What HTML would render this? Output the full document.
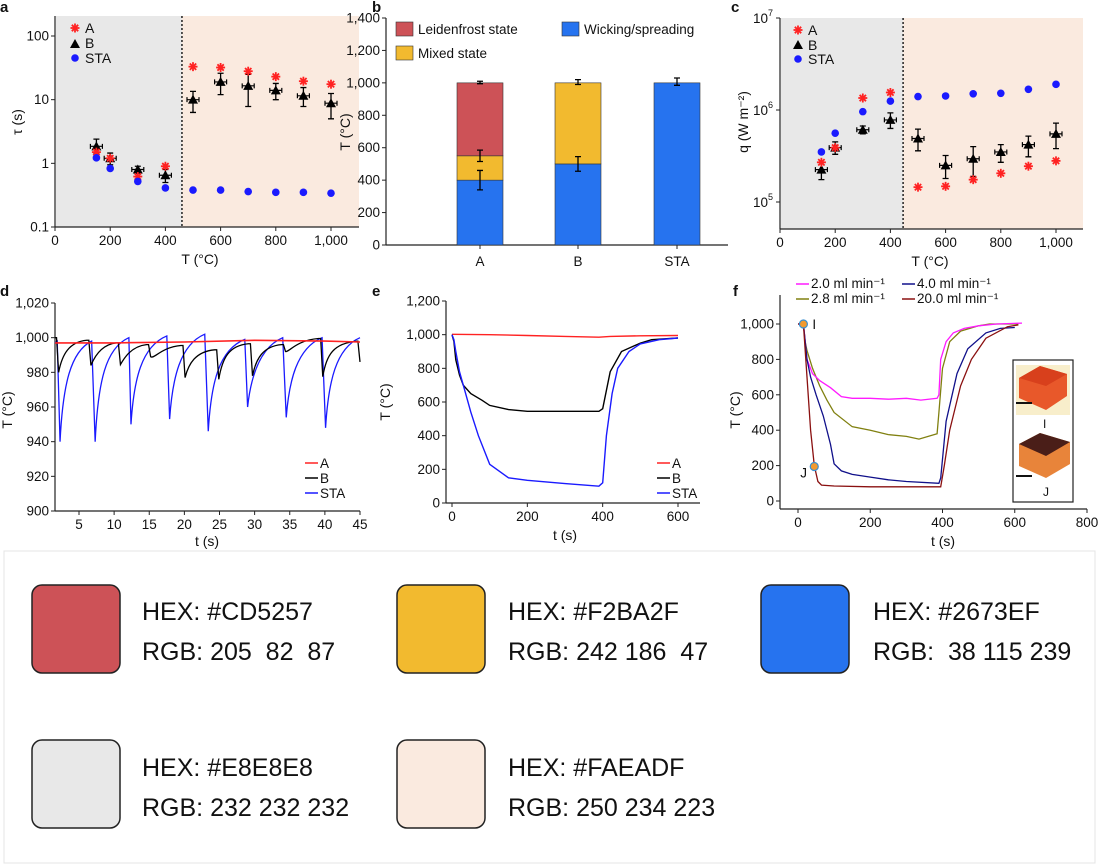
<!DOCTYPE html>
<html><head><meta charset="utf-8"><style>
body{margin:0;background:#fff;}
svg{display:block;font-family:"Liberation Sans",sans-serif;}
.sw-text{font-family:"Liberation Sans",sans-serif;font-size:25px;fill:#111;}
</style></head><body>
<svg id="fig" width="1099" height="867" viewBox="0 0 1099 867" xmlns="http://www.w3.org/2000/svg">
<rect x="0" y="0" width="1099" height="867" fill="#fff"/>
<rect x="4" y="551" width="1091" height="312" fill="#fff" stroke="#e4e4e4"/>
<g><rect x="32" y="585" width="88" height="88" rx="10" fill="#CD5257" stroke="#222" stroke-width="1.5"/><text class="sw-text" x="142" y="620">HEX: #CD5257</text><text class="sw-text" x="142" y="660" xml:space="preserve">RGB: 205  82  87</text></g>
<g><rect x="397" y="585" width="88" height="88" rx="10" fill="#F2BA2F" stroke="#222" stroke-width="1.5"/><text class="sw-text" x="508" y="620">HEX: #F2BA2F</text><text class="sw-text" x="508" y="660" xml:space="preserve">RGB: 242 186  47</text></g>
<g><rect x="761" y="585" width="88" height="88" rx="10" fill="#2673EF" stroke="#222" stroke-width="1.5"/><text class="sw-text" x="873" y="620">HEX: #2673EF</text><text class="sw-text" x="873" y="660" xml:space="preserve">RGB:  38 115 239</text></g>
<g><rect x="32" y="740" width="88" height="88" rx="10" fill="#E8E8E8" stroke="#222" stroke-width="1.5"/><text class="sw-text" x="142" y="776">HEX: #E8E8E8</text><text class="sw-text" x="142" y="816">RGB: 232 232 232</text></g>
<g><rect x="397" y="740" width="88" height="88" rx="10" fill="#FAEADF" stroke="#222" stroke-width="1.5"/><text class="sw-text" x="508" y="776">HEX: #FAEADF</text><text class="sw-text" x="508" y="816">RGB: 250 234 223</text></g>
</svg>
<script>
// ---------- data ----------
const aTemps=[150,200,300,400,500,600,700,800,900,1000];
const aTauA=[1.5,1.2,0.62,0.9,33,32,28,23,19.5,17.5];
const aTauB=[1.85,1.2,0.8,0.65,10,19,16.5,14,11.5,8.8];
const aTauBlo=[1.45,0.95,0.7,0.5,6.3,12,7.8,10,7.8,5];
const aTauBhi=[2.4,1.45,0.9,0.8,13.5,26,25,18,15.5,12.5];
const aTauSTA=[1.22,0.83,0.52,0.41,0.38,0.38,0.36,0.35,0.35,0.34];
const aTicks=[0,200,400,600,800,1000];
const aTickLabels=["0","200","400","600","800","1,000"];
const aYTicks=[0.1,1,10,100];
const aYLabels=["0.1","1","10","100"];

const bCats=["A","B","STA"];
const bWick=[400,500,1000];
const bMixed=[150,500,0];
const bLeid=[450,0,0];
const bErrWick=[60,45,0];
const bErrMixed=[35,0,0];
const bErrTop=[10,20,30];
const bYTicks=[0,200,400,600,800,1000,1200,1400];
const bYLabels=["0","200","400","600","800","1,000","1,200","1,400"];

const cQA=[2.7e5,3.9e5,1.35e6,1.55e6,1.45e5,1.48e5,1.75e5,2.05e5,2.45e5,2.8e5];
const cQB=[2.25e5,3.9e5,6.1e5,7.8e5,4.9e5,2.5e5,2.95e5,3.5e5,4.2e5,5.5e5];
const cQBlo=[1.75e5,3.3e5,5.5e5,6.3e5,3.6e5,1.8e5,1.9e5,2.7e5,3.1e5,3.8e5];
const cQBhi=[2.7e5,4.5e5,6.7e5,9.3e5,6.2e5,3.2e5,4.0e5,4.2e5,5.2e5,7.2e5];
const cQSTA=[3.5e5,5.6e5,9.6e5,1.25e6,1.4e6,1.42e6,1.5e6,1.52e6,1.68e6,1.9e6];

const dStaDrop=[1.9,6.8,12.1,17.5,22.9,28.6,34.0,39.6];
const dStaMin=[940,940,950,953,946,960,954,948];
const dStaMinT=[2.3,7.3,12.4,17.9,23.4,29.0,34.5,40.1];
const dStaPeak=[998,1000,1001,1002,999,1000,1000,1000];
const dBDrop=[1.8,6.4,10.6,14.9,19.8,24.6,29.4,34.1,39.4];
const dBMin=[980,984,984.5,989,977,976,978,992,977.5];
const dBPeak=[998.5,997,996,995.5,993,996.5,996,999.5,998];
const dRedT=[1.6,10,20,30,40,45];
const dRedV=[997,997,997.5,998.5,998,997.5];
const dXTicks=[5,10,15,20,25,30,35,40,45];
const dYTicks=[900,920,940,960,980,1000,1020];
const dYLabels=["900","920","940","960","980","1,000","1,020"];

const eAT=[0,100,200,300,390,420,500,600];
const eAV=[1002,1000,995,990,985,990,993,995];
const eBT=[0,5,10,20,30,50,80,100,150,200,300,390,400,420,450,500,530,600];
const eBV=[1000,960,850,760,700,650,610,580,555,545,545,545,560,780,900,950,970,980];
const eST=[0,5,10,20,30,50,70,100,150,200,300,390,400,410,425,440,470,500,550,600];
const eSV=[1000,970,900,780,700,540,400,230,150,135,115,100,120,400,650,800,900,945,970,980];
const eXTicks=[0,200,400,600];
const eYTicks=[0,200,400,600,800,1000,1200];
const eYLabels=["0","200","400","600","800","1,000","1,200"];

const fMT=[0,15,20,25,40,60,90,120,150,200,250,300,340,385,390,395,410,430,460,500,550,620];
const fMV=[1000,1000,900,800,720,680,640,590,580,580,575,580,570,580,600,800,900,950,975,990,1000,1005];
const fOT=[0,15,20,25,40,60,80,100,150,200,250,300,335,385,390,400,420,450,500,530,610];
const fOV=[1000,1000,900,850,750,650,570,500,420,400,375,365,350,380,500,750,900,960,990,1000,1000];
const fNT=[0,15,25,35,50,70,90,100,120,150,200,250,300,390,395,410,440,470,520,560,600];
const fNV=[1000,1000,800,700,600,480,320,210,170,150,135,120,110,100,130,450,720,860,950,975,980];
const fRT=[0,15,25,35,45,55,65,100,200,300,395,405,420,450,480,520,580,610];
const fRV=[1000,1000,700,400,200,110,90,85,80,80,80,200,400,650,800,920,985,995];
const fXTicks=[0,200,400,600,800];
const fYTicks=[0,200,400,600,800,1000];
const fYLabels=["0","200","400","600","800","1,000"];

// ---------- helpers ----------
const NS="http://www.w3.org/2000/svg";
const svg=document.getElementById('fig');
function el(tag,name,attrs,parent){
  const e=document.createElementNS(NS,tag);
  for(const k in attrs)e.setAttribute(k,attrs[k]);
  
  
  (parent||svg).appendChild(e);return e;
}
function txt(name,x,y,s,opt,parent){
  const t=el('text',name,Object.assign({x:x,y:y,'font-size':13.5,fill:'#111'},opt||{}),parent);
  t.textContent=s;return t;
}
function lin(d0,d1,r0,r1){return v=>r0+(v-d0)/(d1-d0)*(r1-r0);}
function logs(d0,d1,r0,r1){return v=>r0+(Math.log10(v)-Math.log10(d0))/(Math.log10(d1)-Math.log10(d0))*(r1-r0);}
function pathD(xs,ys,X,Y){return xs.map((t,i)=>(i?'L':'M')+X(t).toFixed(1)+','+Y(ys[i]).toFixed(1)).join('');}
function axes(g,name,x0,x1,y0,y1){
  el('line',name+'-y-axis',{x1:x0,y1:y0,x2:x0,y2:y1,stroke:'#222','stroke-width':1.2},g);
  el('line',name+'-x-axis',{x1:x0,y1:y1,x2:x1,y2:y1,stroke:'#222','stroke-width':1.2},g);
}
function xticks(g,name,vals,labels,X,y,len){
  vals.forEach((v,i)=>{el('line',name+'-x-tick',{x1:X(v),x2:X(v),y1:y,y2:y+(len||4),stroke:'#222'},g);
    txt(name+'-x-tick-label',X(v),y+18,labels[i],{'text-anchor':'middle'},g);});
}
function yticks(g,name,vals,labels,Y,x){
  vals.forEach((v,i)=>{el('line',name+'-y-tick',{x1:x-4,x2:x,y1:Y(v),y2:Y(v),stroke:'#222'},g);
    txt(name+'-y-tick-label',x-6,Y(v)+4.5,labels[i],{'text-anchor':'end'},g);});
}
function star(g,name,x,y,c){
  const s=el('g',name,{},g);
  for(let a=0;a<4;a++){const an=a*Math.PI/4;el('line',name+'-stroke',{x1:x-4.5*Math.cos(an),y1:y-4.5*Math.sin(an),x2:x+4.5*Math.cos(an),y2:y+4.5*Math.sin(an),stroke:c,'stroke-width':1.8},s);}
}
function tri(g,name,x,y){el('polygon',name,{points:`${x},${y-5} ${x-5},${y+4} ${x+5},${y+4}`,fill:'#000'},g);}
function vbar(g,name,x,yl,yh,c){el('path',name,{d:`M${x},${yl}V${yh}M${x-3},${yl}H${x+3}M${x-3},${yh}H${x+3}`,stroke:c,'stroke-width':1.3,fill:'none'},g);}
function hbar(g,name,x,y,c){el('path',name,{d:`M${x-6},${y}H${x+6}M${x-6},${y-2.5}V${y+2.5}M${x+6},${y-2.5}V${y+2.5}`,stroke:c,'stroke-width':1.2,fill:'none'},g);}

// ---------- panel a ----------
(function(){
 const g=el('g','panel-a',{});
 const X=lin(0,1000,55,331), Y=logs(0.1,100,227,36);
 const top=16,right=359,div=X(460);
 el('rect','low-temp-region',{x:56,y:top,width:div-56,height:227-top,fill:'#E8E8E8'},g);
 el('rect','high-temp-region',{x:div,y:top,width:right-div,height:227-top,fill:'#FAEADF'},g);
 el('line','transition-line',{x1:div,x2:div,y1:top,y2:227,stroke:'#222','stroke-dasharray':'2,2','stroke-width':1.5},g);
 axes(g,'a',55,right,top,227);
 xticks(g,'a',aTicks,aTickLabels,X,227);
 yticks(g,'a',aYTicks,aYLabels,Y,55);
 txt('panel-label-a',0,12,'a',{'font-weight':'bold','font-size':15},g);
 txt('a-x-axis-title',200,264,'T (°C)',{'text-anchor':'middle','font-size':14},g);
 txt('a-y-axis-title',0,0,'τ (s)',{'text-anchor':'middle','font-size':14,transform:'translate(22,122) rotate(-90)'},g);
 aTemps.forEach((t,i)=>{
  const x=X(t);
  vbar(g,'a-b-errorbar',x,Y(aTauBlo[i]),Y(aTauBhi[i]),'#000');hbar(g,'a-b-herr',x,Y(aTauB[i]),'#000');
  tri(g,'a-b-point',x,Y(aTauB[i]));
  star(g,'a-a-point',x,Y(aTauA[i]),'#f22');
  el('circle','a-sta-point',{cx:x,cy:Y(aTauSTA[i]),r:3.8,fill:'#1a1aff'},g);
 });
 star(g,'a-legend-a-marker',75,28,'#f22');txt('a-legend-a',85,33,'A',{'font-size':14},g);
 tri(g,'a-legend-b-marker',75,44);txt('a-legend-b',85,48,'B',{'font-size':14},g);
 el('circle','a-legend-sta-marker',{cx:75,cy:58,r:3.8,fill:'#1a1aff'},g);txt('a-legend-sta',85,63,'STA',{'font-size':14},g);
})();

// ---------- panel b ----------
(function(){
 const g=el('g','panel-b',{});
 const Y=lin(0,1400,245,18);const x0=386,x1=728;
 const cx=[480,578,677],w=46;
 axes(g,'b',x0,x1,18,245);
 yticks(g,'b',bYTicks,bYLabels,Y,x0);
 txt('panel-label-b',372,12,'b',{'font-weight':'bold','font-size':15},g);
 txt('b-y-axis-title',0,0,'T (°C)',{'text-anchor':'middle','font-size':14,transform:'translate(350,132) rotate(-90)'},g);
 bCats.forEach((c,i)=>{
  const x=cx[i]-w/2;let base=0;
  [[bWick,'#2673EF','wicking'],[bMixed,'#F2BA2F','mixed'],[bLeid,'#CD5257','leidenfrost']].forEach(([arr,col,nm])=>{
   const v=arr[i];if(v>0){el('rect','b-bar-'+nm+'-'+c,{x:x,y:Y(base+v),width:w,height:Y(base)-Y(base+v),fill:col,stroke:'#333','stroke-width':0.6},g);}
   base+=v;});
  el('line','b-x-tick',{x1:cx[i],x2:cx[i],y1:245,y2:249,stroke:'#222'},g);
  txt('b-x-tick-label',cx[i],266,c,{'text-anchor':'middle'},g);
  if(bErrWick[i])vbar(g,'b-err-wick',cx[i],Y(bWick[i]-bErrWick[i]),Y(bWick[i]+bErrWick[i]),'#000');
  if(bErrMixed[i])vbar(g,'b-err-mixed',cx[i],Y(bWick[i]+bMixed[i]-bErrMixed[i]),Y(bWick[i]+bMixed[i]+bErrMixed[i]),'#000');
  vbar(g,'b-err-top',cx[i],Y(base-bErrTop[i]/2),Y(base+bErrTop[i]),'#000');
 });
 [[396,22,'#CD5257','Leidenfrost state'],[396,46,'#F2BA2F','Mixed state'],[562,22,'#2673EF','Wicking/spreading']].forEach(([x,y,c,s])=>{
  el('rect','b-legend-swatch',{x:x,y:y,width:17,height:14,fill:c,stroke:'#333','stroke-width':0.6},g);
  txt('b-legend-label',x+22,y+12,s,{},g);});
})();

// ---------- panel c ----------
(function(){
 const g=el('g','panel-c',{});
 const X=lin(0,1000,780,1056),Y=logs(1e5,1e7,202,18);
 const right=1083,bot=229,div=X(446);
 el('rect','c-low-temp-region',{x:781,y:18,width:div-781,height:bot-18,fill:'#E8E8E8'},g);
 el('rect','c-high-temp-region',{x:div,y:18,width:right-div,height:bot-18,fill:'#FAEADF'},g);
 el('line','c-transition-line',{x1:div,x2:div,y1:18,y2:bot,stroke:'#222','stroke-dasharray':'2,2','stroke-width':1.5},g);
 axes(g,'c',780,right,18,bot);
 xticks(g,'c',aTicks,aTickLabels,X,bot);
 [[1e5,'5'],[1e6,'6'],[1e7,'7']].forEach(([v,e])=>{
  el('line','c-y-tick',{x1:776,x2:780,y1:Y(v),y2:Y(v),stroke:'#222'},g);
  txt('c-y-tick-label',768,Y(v)+5,'10',{'text-anchor':'end'},g);
  txt('c-y-tick-exp',768,Y(v)-2,e,{'font-size':9},g);});
 txt('panel-label-c',731,12,'c',{'font-weight':'bold','font-size':15},g);
 txt('c-x-axis-title',930,266,'T (°C)',{'text-anchor':'middle','font-size':14},g);
 txt('c-y-axis-title',0,0,'q (W m⁻²)',{'text-anchor':'middle','font-size':14,transform:'translate(748,122) rotate(-90)'},g);
 aTemps.forEach((t,i)=>{
  const x=X(t);
  vbar(g,'c-b-errorbar',x,Y(cQBlo[i]),Y(cQBhi[i]),'#000');hbar(g,'c-b-herr',x,Y(cQB[i]),'#000');
  tri(g,'c-b-point',x,Y(cQB[i]));
  star(g,'c-a-point',x,Y(cQA[i]),'#f22');
  el('circle','c-sta-point',{cx:x,cy:Y(cQSTA[i]),r:3.8,fill:'#1a1aff'},g);
 });
 star(g,'c-legend-a-marker',798,30,'#f22');txt('c-legend-a',808,35,'A',{'font-size':14},g);
 tri(g,'c-legend-b-marker',798,45);txt('c-legend-b',808,50,'B',{'font-size':14},g);
 el('circle','c-legend-sta-marker',{cx:798,cy:59,r:3.8,fill:'#1a1aff'},g);txt('c-legend-sta',808,64,'STA',{'font-size':14},g);
})();

// ---------- panel d ----------
(function(){
 const g=el('g','panel-d',{});
 const X=lin(5,45,79,360),Y=lin(900,1020,511,303);
 axes(g,'d',55,360,303,511);
 xticks(g,'d',dXTicks,dXTicks.map(String),X,511);
 yticks(g,'d',dYTicks,dYLabels,Y,55);
 txt('panel-label-d',0,296,'d',{'font-weight':'bold','font-size':15},g);
 txt('d-x-axis-title',207,546,'t (s)',{'text-anchor':'middle','font-size':14},g);
 txt('d-y-axis-title',0,0,'T (°C)',{'text-anchor':'middle','font-size':14,transform:'translate(12,410) rotate(-90)'},g);
 let d='M'+X(1.6)+','+Y(997);
 dStaDrop.forEach((t,i)=>{
  d+=`L${X(t)},${Y(i?dStaPeak[i-1]:998)}L${X(dStaMinT[i])},${Y(dStaMin[i])}`;
  const tEnd=i<dStaDrop.length-1?dStaDrop[i+1]:45, pk=dStaPeak[i];
  const mt=dStaMinT[i];
  d+=`C${X(mt+0.4)},${Y(pk-25)} ${X(mt+1.5)},${Y(pk-6)} ${X(tEnd)},${Y(pk)}`;
 });
 el('path','d-line-sta',{d:d,fill:'none',stroke:'#1a1aff','stroke-width':1.3},g);
 d='M'+X(1.6)+','+Y(1000);
 dBDrop.forEach((t,i)=>{
  const mt=t+0.3,pk=dBPeak[i],tEnd=i<dBDrop.length-1?dBDrop[i+1]:45;
  d+=`L${X(t)},${Y(i?dBPeak[i-1]:1000)}L${X(mt)},${Y(dBMin[i])}`;
  d+=`C${X(mt+0.5)},${Y(pk-8)} ${X(mt+1.5)},${Y(pk-1)} ${X(tEnd-0.3)},${Y(pk)}`;
 });
 d+=`L${X(45)},${Y(986)}`;
 el('path','d-line-b',{d:d,fill:'none',stroke:'#000','stroke-width':1.3},g);
 el('path','d-line-a',{d:pathD(dRedT,dRedV,X,Y),fill:'none',stroke:'#f22','stroke-width':1.6},g);
 [['#f22','A',463],['#000','B',478],['#1a1aff','STA',493]].forEach(([c,s,y])=>{
  el('line','d-legend-line',{x1:305,x2:318,y1:y,y2:y,stroke:c,'stroke-width':1.5},g);
  txt('d-legend-label',320,y+5,s,{},g);});
})();

// ---------- panel e ----------
(function(){
 const g=el('g','panel-e',{});
 const X=lin(0,600,452,678),Y=lin(0,1200,503,301);
 axes(g,'e',446,700,301,503);
 xticks(g,'e',eXTicks,eXTicks.map(String),X,503);
 yticks(g,'e',eYTicks,eYLabels,Y,446);
 txt('panel-label-e',372,296,'e',{'font-weight':'bold','font-size':15},g);
 txt('e-x-axis-title',565,540,'t (s)',{'text-anchor':'middle','font-size':14},g);
 txt('e-y-axis-title',0,0,'T (°C)',{'text-anchor':'middle','font-size':14,transform:'translate(390,402) rotate(-90)'},g);
 el('path','e-line-a',{d:pathD(eAT,eAV,X,Y),fill:'none',stroke:'#f22','stroke-width':1.4},g);
 el('path','e-line-b',{d:pathD(eBT,eBV,X,Y),fill:'none',stroke:'#000','stroke-width':1.4},g);
 el('path','e-line-sta',{d:pathD(eST,eSV,X,Y),fill:'none',stroke:'#1a1aff','stroke-width':1.4},g);
 [['#f22','A',463],['#000','B',478],['#1a1aff','STA',493]].forEach(([c,s,y])=>{
  el('line','e-legend-line',{x1:657,x2:670,y1:y,y2:y,stroke:c,'stroke-width':1.5},g);
  txt('e-legend-label',672,y+5,s,{},g);});
})();

// ---------- panel f ----------
(function(){
 const g=el('g','panel-f',{});
 const X=lin(0,800,798,1087),Y=lin(0,1000,501,324);
 axes(g,'f',780,1087,295,509);
 xticks(g,'f',fXTicks,fXTicks.map(String),X,509);
 yticks(g,'f',fYTicks,fYLabels,Y,780);
 txt('panel-label-f',733,296,'f',{'font-weight':'bold','font-size':15},g);
 txt('f-x-axis-title',943,546,'t (s)',{'text-anchor':'middle','font-size':14},g);
 txt('f-y-axis-title',0,0,'T (°C)',{'text-anchor':'middle','font-size':14,transform:'translate(740,410) rotate(-90)'},g);
 el('path','f-line-2-8',{d:pathD(fOT,fOV,X,Y),fill:'none',stroke:'#808010','stroke-width':1.3},g);
 el('path','f-line-2-0',{d:pathD(fMT,fMV,X,Y),fill:'none',stroke:'#ff1aff','stroke-width':1.3},g);
 el('path','f-line-4-0',{d:pathD(fNT,fNV,X,Y),fill:'none',stroke:'#10108a','stroke-width':1.3},g);
 el('path','f-line-20-0',{d:pathD(fRT,fRV,X,Y),fill:'none',stroke:'#8a1010','stroke-width':1.3},g);
 el('circle','f-marker-i',{cx:X(15),cy:Y(1000),r:4,fill:'#f29a2f',stroke:'#3a8fd0','stroke-width':1.2},g);
 txt('f-label-i',X(15)+9,Y(1000)+5,'I',{},g);
 el('circle','f-marker-j',{cx:X(45),cy:Y(195),r:4,fill:'#f29a2f',stroke:'#3a8fd0','stroke-width':1.2},g);
 txt('f-label-j',X(45)-14,Y(195)+11,'J',{},g);
 [[796,288,'#ff1aff','2.0 ml min⁻¹'],[902,288,'#10108a','4.0 ml min⁻¹'],[796,303,'#808010','2.8 ml min⁻¹'],[902,303,'#8a1010','20.0 ml min⁻¹']].forEach(([x,y,c,s])=>{
  el('line','f-legend-line',{x1:x,x2:x+13,y1:y-4,y2:y-4,stroke:c,'stroke-width':1.5},g);
  txt('f-legend-label',x+15,y,s,{},g);});
 el('rect','f-inset-box',{x:1013,y:360,width:60,height:142,fill:'#fff',stroke:'#222','stroke-width':1.2},g);
 el('rect','f-inset-bg-i',{x:1016,y:365,width:54,height:50,fill:'#f8eecb'},g);
 el('polygon','f-inset-cube-i',{points:'1019,378 1040,366 1067,374 1067,396 1046,410 1019,398',fill:'#e8582a'},g);
 el('polygon','f-inset-cube-i-top',{points:'1019,378 1040,366 1067,374 1046,386',fill:'#d8401c'},g);
 el('line','f-inset-scale-i',{x1:1016,x2:1032,y1:403,y2:403,stroke:'#111','stroke-width':2},g);
 txt('f-inset-label-i',1043,428,'I',{'font-size':12},g);
 el('polygon','f-inset-cube-j',{points:'1019,444 1040,433 1070,442 1070,464 1046,478 1019,466',fill:'#e8843a'},g);
 el('polygon','f-inset-cube-j-top',{points:'1019,444 1040,433 1070,442 1046,456',fill:'#4a1e18'},g);
 el('line','f-inset-scale-j',{x1:1016,x2:1032,y1:476,y2:476,stroke:'#111','stroke-width':2},g);
 txt('f-inset-label-j',1043,496,'J',{'font-size':12},g);
})();
</script>
</body></html>
